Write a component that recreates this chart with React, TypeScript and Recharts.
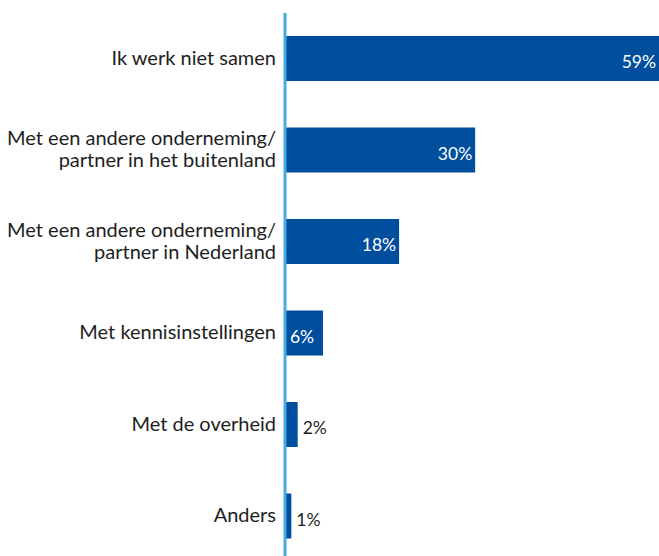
import React from "react";
import { BarChart, Bar, XAxis, YAxis, LabelList } from "recharts";

const categories = [
  "Ik werk niet samen",
  "Met een andere onderneming/\npartner in het buitenland",
  "Met een andere onderneming/\npartner in Nederland",
  "Met kennisinstellingen",
  "Met de overheid",
  "Anders",
];
const values = [59, 30, 18, 6, 2, 1];

const data = categories.map((c, i) => ({ name: c, value: values[i] }));

const FONT = "Lato, 'Open Sans', sans-serif";

const CategoryTick = (props: any) => {
  const { x, y, payload } = props;
  const lines = String(payload.value).split("\n");
  const lh = 22;
  const start = -((lines.length - 1) * lh) / 2;
  return (
    <text
      x={x - 1}
      y={y}
      textAnchor="end"
      fontFamily={FONT}
      fontSize={20}
      fill="#1e1e1e"
    >
      {lines.map((l: string, i: number) => (
        <tspan key={i} x={x - 1} y={y + start + i * lh - 1} dy="0.35em">
          {l}
        </tspan>
      ))}
    </text>
  );
};

const ValueLabel = (props: any) => {
  const { x, y, width, height, value } = props;
  const cy = y + height / 2 + 3;
  if (value >= 5) {
    const narrow = width < 50;
    return (
      <text
        x={narrow ? x + width / 2 - 2 : x + width - 3}
        y={cy}
        textAnchor={narrow ? "middle" : "end"}
        dominantBaseline="central"
        fontFamily={FONT}
        fontSize={17.5}
        fill="#ffffff"
      >
        {value}%
      </text>
    );
  }
  return (
    <text
      x={x + width + 5}
      y={cy}
      textAnchor="start"
      dominantBaseline="central"
      fontFamily={FONT}
      fontSize={17.5}
      fill="#1e1e1e"
    >
      {value}%
    </text>
  );
};

export default function App() {
  return (
    <div
      style={{
        position: "absolute",
        left: 0,
        top: 0,
        width: 659,
        height: 556,
        overflow: "hidden",
        background: "#fff",
      }}
    >
      <BarChart
        width={659}
        height={562}
        data={data}
        layout="vertical"
        margin={{ top: 13, right: 0, bottom: 0, left: 0 }}
        barCategoryGap={0}
      >
        <XAxis type="number" domain={[0, 59]} hide />
        <YAxis
          type="category"
          dataKey="name"
          width={285}
          axisLine={{ stroke: "#45abe2", strokeWidth: 3 }}
          tickLine={false}
          tick={<CategoryTick />}
          interval={0}
        />
        <Bar dataKey="value" fill="#004f9f" barSize={45} isAnimationActive={false}>
          <LabelList dataKey="value" content={<ValueLabel />} />
        </Bar>
      </BarChart>
    </div>
  );
}
